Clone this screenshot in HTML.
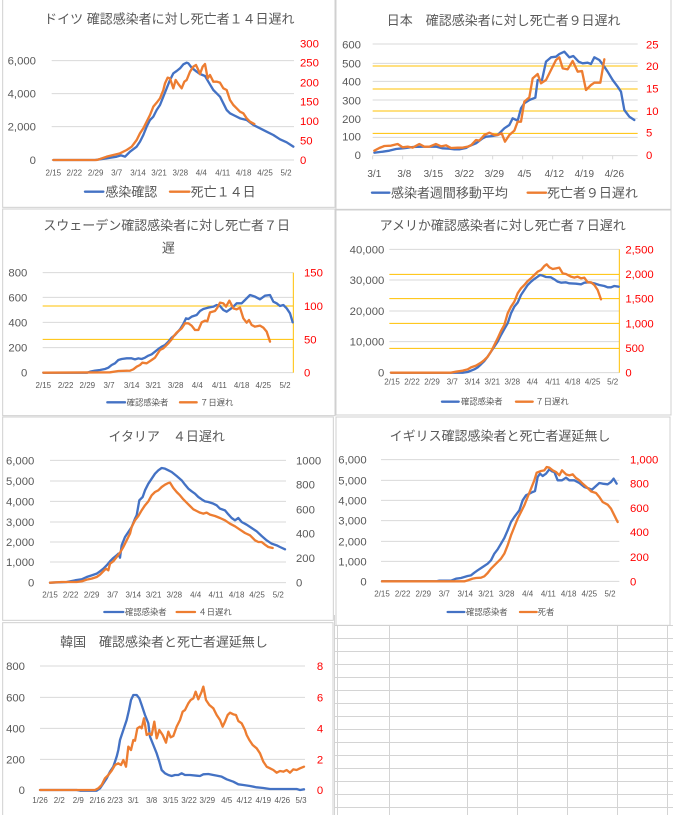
<!DOCTYPE html>
<html><head><meta charset="utf-8">
<style>
html,body{margin:0;padding:0;background:#fff;}
svg{display:block;}
.t{font-family:"Liberation Sans","Noto Sans CJK JP",sans-serif;fill:#595959;}
.ttl{font-size:39px;}
.ax{font-size:34px;}
.xl{font-size:24px;}
.xl2{font-size:30px;}
.lg{font-size:39px;}
.lgs{font-size:25px;}
.red{fill:#ff0000;}
.g{stroke:#d9d9d9;stroke-width:3;}
.y{stroke:#ffc000;stroke-width:3;}
.bd{fill:none;stroke:#d0d0d0;stroke-width:3;}
.b{fill:none;stroke:#4472c4;stroke-width:7;stroke-linejoin:round;stroke-linecap:round;}
.o{fill:none;stroke:#ed7d31;stroke-width:7;stroke-linejoin:round;stroke-linecap:round;}
</style></head>
<body>
<svg width="673" height="815" viewBox="0 0 673 815" xmlns="http://www.w3.org/2000/svg">
<rect width="673" height="815" fill="#fff"/>

<!-- spreadsheet grid bottom-right -->
<g stroke="#d4d4d4" stroke-width="1">
<line x1="334" y1="625.5" x2="673" y2="625.5"/>
<line x1="334" y1="638.5" x2="673" y2="638.5"/>
<line x1="334" y1="651.5" x2="673" y2="651.5"/>
<line x1="334" y1="664.5" x2="673" y2="664.5"/>
<line x1="334" y1="677.5" x2="673" y2="677.5"/>
<line x1="334" y1="690.5" x2="673" y2="690.5"/>
<line x1="334" y1="703.5" x2="673" y2="703.5"/>
<line x1="334" y1="716.5" x2="673" y2="716.5"/>
<line x1="334" y1="729.5" x2="673" y2="729.5"/>
<line x1="334" y1="742.5" x2="673" y2="742.5"/>
<line x1="334" y1="755.5" x2="673" y2="755.5"/>
<line x1="334" y1="768.5" x2="673" y2="768.5"/>
<line x1="334" y1="781.5" x2="673" y2="781.5"/>
<line x1="334" y1="794.5" x2="673" y2="794.5"/>
<line x1="334" y1="807.5" x2="673" y2="807.5"/>
<line x1="334.5" y1="615" x2="334.5" y2="815"/>
<line x1="337.5" y1="625" x2="337.5" y2="815"/>
<line x1="389.5" y1="625" x2="389.5" y2="815"/>
<line x1="467.5" y1="625" x2="467.5" y2="815"/>
<line x1="517.5" y1="625" x2="517.5" y2="815"/>
<line x1="567.5" y1="625" x2="567.5" y2="815"/>
<line x1="617.5" y1="625" x2="617.5" y2="815"/>
<line x1="667.5" y1="625" x2="667.5" y2="815"/>
</g>

<!-- ============ Chart 1: Germany ============ -->
<g transform="translate(0,0) scale(0.33333)">
<rect class="bd" x="8" y="-5" width="997" height="627"/>
<text class="t ttl" x="508" y="70" text-anchor="middle">ドイツ 確認感染者に対し死亡者１４日遅れ</text>
<line class="g" x1="155" y1="182" x2="882" y2="182"/>
<line class="g" x1="155" y1="281" x2="882" y2="281"/>
<line class="g" x1="155" y1="380" x2="882" y2="380"/>
<line class="g" x1="155" y1="480" x2="882" y2="480"/>
<g class="t ax" text-anchor="end">
<text x="108" y="194">6,000</text><text x="108" y="293">4,000</text><text x="108" y="392">2,000</text><text x="108" y="492">0</text>
</g>
<g class="t ax red">
<text x="900" y="142">300</text><text x="900" y="200">250</text><text x="900" y="259">200</text><text x="900" y="317">150</text><text x="900" y="375">100</text><text x="900" y="434">50</text><text x="900" y="492">0</text>
</g>
<g class="t xl" text-anchor="middle">
<text x="160" y="527">2/15</text><text x="223" y="527">2/22</text><text x="287" y="527">2/29</text><text x="350" y="527">3/7</text><text x="414" y="527">3/14</text><text x="477" y="527">3/21</text><text x="541" y="527">3/28</text><text x="604" y="527">4/4</text><text x="668" y="527">4/11</text><text x="731" y="527">4/18</text><text x="795" y="527">4/25</text><text x="858" y="527">5/2</text>
</g>
<polyline class="b" points="160,480 285,480 300,478 350,470 363,466 375,470 390,455 410,440 420,425 430,405 440,380 450,360 460,350 470,330 480,315 490,290 500,265 510,240 520,220 530,213 540,205 550,193 560,188 565,190 575,203 590,215 600,222 615,228 625,245 640,270 650,280 660,290 670,310 680,330 690,340 700,345 720,355 740,360 760,375 780,385 800,395 820,405 840,418 860,427 880,440"/>
<polyline class="o" points="160,480 290,480 300,477 320,470 340,465 360,460 380,450 395,440 410,420 420,400 430,385 440,365 450,345 460,320 470,308 480,295 490,270 495,250 503,233 510,235 520,265 527,240 535,252 545,265 553,245 560,240 570,215 580,200 588,195 595,210 600,222 608,200 615,192 623,235 630,225 640,245 650,245 660,248 670,265 680,270 690,300 700,315 710,325 720,335 730,340 740,355 750,365 763,372"/>
<line class="b" x1="255" y1="575" x2="310" y2="575"/>
<text class="t lg" x="316" y="590">感染確認</text>
<line class="o" x1="510" y1="575" x2="568" y2="575"/>
<text class="t lg" x="572" y="590">死亡１４日</text>
</g>

<!-- ============ Chart 2: Japan ============ -->
<g transform="translate(336,0) scale(0.33333)">
<rect class="bd" x="0" y="-5" width="1005" height="633"/>
<text class="t ttl" x="503" y="75" text-anchor="middle">日本　確認感染者に対し死亡者９日遅れ</text>
<line class="g" x1="110" y1="132" x2="905" y2="132"/>
<line class="g" x1="110" y1="190" x2="905" y2="190"/>
<line class="g" x1="110" y1="244" x2="905" y2="244"/>
<line class="g" x1="110" y1="300" x2="905" y2="300"/>
<line class="g" x1="110" y1="355" x2="905" y2="355"/>
<line class="g" x1="110" y1="412" x2="905" y2="412"/>
<line class="g" x1="110" y1="467" x2="905" y2="467"/>
<g class="g">
<line x1="110" y1="467" x2="110" y2="478"/><line x1="200" y1="467" x2="200" y2="478"/><line x1="290" y1="467" x2="290" y2="478"/><line x1="380" y1="467" x2="380" y2="478"/><line x1="470" y1="467" x2="470" y2="478"/><line x1="560" y1="467" x2="560" y2="478"/><line x1="650" y1="467" x2="650" y2="478"/><line x1="740" y1="467" x2="740" y2="478"/><line x1="830" y1="467" x2="830" y2="478"/>
</g>
<line class="y" x1="110" y1="198" x2="905" y2="198"/>
<line class="y" x1="110" y1="267" x2="905" y2="267"/>
<line class="y" x1="110" y1="333" x2="905" y2="333"/>
<line class="y" x1="110" y1="400" x2="905" y2="400"/>
<g class="t ax" text-anchor="end">
<text x="75" y="145">600</text><text x="75" y="202">500</text><text x="75" y="257">400</text><text x="75" y="314">300</text><text x="75" y="369">200</text><text x="75" y="422">100</text><text x="75" y="477">0</text>
</g>
<g class="t ax red">
<text x="930" y="145">25</text><text x="930" y="210">20</text><text x="930" y="278">15</text><text x="930" y="345">10</text><text x="930" y="410">5</text><text x="930" y="477">0</text>
</g>
<g class="t xl2" text-anchor="middle">
<text x="115" y="531">3/1</text><text x="205" y="531">3/8</text><text x="292" y="531">3/15</text><text x="385" y="531">3/22</text><text x="475" y="531">3/29</text><text x="565" y="531">4/5</text><text x="655" y="531">4/12</text><text x="745" y="531">4/19</text><text x="835" y="531">4/26</text>
</g>
<polyline class="b" points="115,458 140,455 160,452 180,447 200,445 210,444 230,441 260,440 280,440 300,440 320,445 340,446 355,448 370,448 390,444 400,438 420,430 440,415 450,410 470,408 485,405 495,395 505,385 520,375 530,355 545,362 555,325 565,310 580,300 598,293 605,240 618,240 630,185 645,172 660,170 670,162 685,155 700,172 712,168 728,185 740,190 755,188 765,192 775,172 790,180 805,200 815,215 830,240 845,260 855,275 865,330 880,350 895,360"/>
<polyline class="o" points="115,452 130,444 145,438 165,437 185,432 200,442 215,440 230,443 250,432 265,440 280,440 300,432 315,439 330,436 345,444 365,443 380,443 395,440 405,436 420,420 430,422 445,405 460,398 475,405 485,405 497,400 507,425 520,405 535,392 545,365 555,365 565,305 580,292 590,235 605,222 615,250 630,240 645,210 660,180 670,172 680,205 695,208 710,183 725,215 738,213 750,270 765,255 775,248 793,248 805,178"/>
<line class="b" x1="108" y1="578" x2="160" y2="578"/>
<text class="t lg" x="165" y="593">感染者週間移動平均</text>
<line class="o" x1="575" y1="578" x2="630" y2="578"/>
<text class="t lg" x="633" y="593">死亡者９日遅れ</text>
</g>

<!-- ============ Chart 3: Sweden ============ -->
<g transform="translate(0,205) scale(0.33333)">
<rect class="bd" x="8" y="12" width="997" height="620"/>
<text class="t ttl" x="500" y="75" text-anchor="middle">スウェーデン確認感染者に対し死亡者７日</text>
<text class="t ttl" x="505" y="143" text-anchor="middle">遅</text>
<line class="g" x1="128" y1="203" x2="880" y2="203"/>
<line class="g" x1="128" y1="277" x2="880" y2="277"/>
<line class="g" x1="128" y1="352" x2="880" y2="352"/>
<line class="g" x1="128" y1="428" x2="880" y2="428"/>
<line class="g" x1="128" y1="503" x2="880" y2="503"/>
<line class="y" x1="128" y1="303" x2="880" y2="303"/>
<line class="y" x1="128" y1="403" x2="880" y2="403"/>
<line class="y" x1="880" y1="203" x2="880" y2="503"/>
<g class="t ax" text-anchor="end">
<text x="82" y="215">800</text><text x="82" y="289">600</text><text x="82" y="364">400</text><text x="82" y="440">200</text><text x="82" y="515">0</text>
</g>
<g class="t ax red">
<text x="912" y="215">150</text><text x="912" y="315">100</text><text x="912" y="415">50</text><text x="912" y="515">0</text>
</g>
<g class="t xl" text-anchor="middle">
<text x="130" y="549">2/15</text><text x="197" y="549">2/22</text><text x="262" y="549">2/29</text><text x="327" y="549">3/7</text><text x="395" y="549">3/14</text><text x="460" y="549">3/21</text><text x="527" y="549">3/28</text><text x="592" y="549">4/4</text><text x="658" y="549">4/11</text><text x="725" y="549">4/18</text><text x="790" y="549">4/25</text><text x="855" y="549">5/2</text>
</g>
<polyline class="b" points="130,503 262,503 270,500 285,497 300,495 315,492 325,488 335,480 345,475 355,465 365,462 380,460 395,460 405,463 415,460 425,462 435,458 445,452 455,448 465,440 475,432 485,425 495,420 505,410 515,398 525,390 540,373 550,357 558,340 565,342 575,335 590,330 600,318 610,312 625,308 640,305 650,300 660,303 670,315 680,320 690,313 700,305 710,295 725,295 735,285 750,270 765,275 780,283 795,272 810,270 820,290 830,295 840,303 850,300 860,310 870,325 878,352"/>
<polyline class="o" points="130,503 330,502 355,498 390,497 400,493 410,485 420,480 427,473 440,475 455,465 465,458 480,435 490,430 505,415 515,403 520,395 530,383 545,370 555,355 565,355 575,362 585,375 595,375 605,352 615,347 622,349 630,322 645,318 652,308 660,293 670,295 678,305 688,287 700,310 710,313 720,308 730,340 740,353 747,345 755,360 765,365 780,362 790,368 800,380 810,410"/>
<line class="b" x1="322" y1="592" x2="375" y2="592"/>
<text class="t lgs" x="380" y="601">確認感染者</text>
<line class="o" x1="540" y1="592" x2="590" y2="592"/>
<text class="t lgs" x="600" y="601">７日遅れ</text>
</g>

<!-- ============ Chart 4: USA ============ -->
<g transform="translate(336,205) scale(0.33333)">
<rect class="bd" x="0" y="15" width="1005" height="615"/>
<text class="t ttl" x="500" y="75" text-anchor="middle">アメリか確認感染者に対し死亡者７日遅れ</text>
<line class="g" x1="160" y1="133" x2="850" y2="133"/>
<line class="g" x1="160" y1="225" x2="850" y2="225"/>
<line class="g" x1="160" y1="318" x2="850" y2="318"/>
<line class="g" x1="160" y1="410" x2="850" y2="410"/>
<line class="g" x1="160" y1="503" x2="850" y2="503"/>
<line class="y" x1="160" y1="208" x2="850" y2="208"/>
<line class="y" x1="160" y1="281" x2="850" y2="281"/>
<line class="y" x1="160" y1="355" x2="850" y2="355"/>
<line class="y" x1="160" y1="430" x2="850" y2="430"/>
<line class="y" x1="850" y1="133" x2="850" y2="503"/>
<g class="t ax" text-anchor="end">
<text x="145" y="145">40,000</text><text x="145" y="237">30,000</text><text x="145" y="330">20,000</text><text x="145" y="422">10,000</text><text x="145" y="515">0</text>
</g>
<g class="t ax red">
<text x="868" y="145">2,500</text><text x="868" y="219">2,000</text><text x="868" y="293">1,500</text><text x="868" y="367">1,000</text><text x="868" y="441">500</text><text x="868" y="515">0</text>
</g>
<g class="t xl" text-anchor="middle">
<text x="168" y="539">2/15</text><text x="228" y="539">2/22</text><text x="288" y="539">2/29</text><text x="349" y="539">3/7</text><text x="409" y="539">3/14</text><text x="469" y="539">3/21</text><text x="529" y="539">3/28</text><text x="589" y="539">4/4</text><text x="650" y="539">4/11</text><text x="710" y="539">4/18</text><text x="770" y="539">4/25</text><text x="830" y="539">5/2</text>
</g>
<polyline class="b" points="165,503 380,503 395,501 405,497 415,493 425,487 435,478 445,468 455,455 465,440 475,425 485,410 495,390 505,372 515,355 525,325 535,305 545,293 555,270 565,255 575,240 585,230 595,222 605,215 612,210 620,212 630,216 645,217 655,223 665,230 675,233 690,232 700,235 720,236 735,238 745,233 760,232 775,235 790,240 805,243 815,247 825,247 835,243 848,245"/>
<polyline class="o" points="165,503 345,503 360,500 380,497 395,493 405,487 420,482 435,473 445,465 455,455 465,440 475,420 485,400 495,378 505,360 515,325 525,305 535,290 545,265 555,250 565,240 575,228 585,220 595,210 605,200 615,195 625,183 632,178 640,187 650,192 660,190 670,188 680,205 690,207 705,215 715,218 725,215 735,220 745,218 755,232 765,232 775,240 785,255 795,283"/>
<line class="b" x1="318" y1="590" x2="368" y2="590"/>
<text class="t lgs" x="375" y="599">確認感染者</text>
<line class="o" x1="540" y1="590" x2="590" y2="590"/>
<text class="t lgs" x="598" y="599">７日遅れ</text>
</g>

<!-- ============ Chart 5: Italy ============ -->
<g transform="translate(0,412) scale(0.33333)">
<rect class="bd" x="8" y="15" width="992" height="610"/>
<text class="t ttl" x="500" y="87" text-anchor="middle">イタリア　４日遅れ</text>
<line class="g" x1="150" y1="145" x2="858" y2="145"/>
<line class="g" x1="150" y1="207" x2="858" y2="207"/>
<line class="g" x1="150" y1="268" x2="858" y2="268"/>
<line class="g" x1="150" y1="330" x2="858" y2="330"/>
<line class="g" x1="150" y1="390" x2="858" y2="390"/>
<line class="g" x1="150" y1="450" x2="858" y2="450"/>
<line class="g" x1="150" y1="512" x2="858" y2="512"/>
<g class="t ax" text-anchor="end">
<text x="103" y="157">6,000</text><text x="103" y="219">5,000</text><text x="103" y="280">4,000</text><text x="103" y="342">3,000</text><text x="103" y="402">2,000</text><text x="103" y="462">1,000</text><text x="103" y="524">0</text>
</g>
<g class="t ax">
<text x="888" y="157">1000</text><text x="888" y="230">800</text><text x="888" y="304">600</text><text x="888" y="377">400</text><text x="888" y="450">200</text><text x="888" y="524">0</text>
</g>
<g class="t xl" text-anchor="middle">
<text x="150" y="557">2/15</text><text x="212" y="557">2/22</text><text x="275" y="557">2/29</text><text x="338" y="557">3/7</text><text x="400" y="557">3/14</text><text x="461" y="557">3/21</text><text x="523" y="557">3/28</text><text x="587" y="557">4/4</text><text x="648" y="557">4/11</text><text x="710" y="557">4/18</text><text x="771" y="557">4/25</text><text x="835" y="557">5/2</text>
</g>
<polyline class="b" points="150,512 200,510 225,505 245,502 260,495 275,490 290,485 300,478 310,470 320,460 330,448 340,438 350,430 355,425 360,437 365,400 375,375 385,360 395,345 405,320 410,310 418,265 428,255 435,235 445,215 455,200 465,185 475,175 485,168 495,170 505,175 515,180 530,192 545,205 555,218 565,230 575,238 585,245 595,255 605,262 615,268 625,270 640,275 650,280 660,290 675,295 685,307 695,318 705,325 715,318 725,330 740,338 755,348 770,358 785,372 800,385 815,395 830,400 840,405 855,412"/>
<polyline class="o" points="150,512 185,510 230,510 245,508 260,503 275,500 290,495 300,488 310,478 318,470 325,475 330,455 340,448 350,435 360,422 370,405 380,385 390,365 395,345 405,325 415,312 425,295 435,280 445,268 455,250 465,240 475,235 485,225 495,218 505,213 510,212 520,228 530,240 540,250 550,262 560,272 570,282 580,292 590,297 600,302 610,305 620,302 630,308 645,312 660,318 675,325 690,335 705,343 720,353 735,363 750,370 765,385 775,390 785,390 795,398 805,405 818,408"/>
<line class="b" x1="313" y1="600" x2="370" y2="600"/>
<text class="t lgs" x="375" y="609">確認感染者</text>
<line class="o" x1="530" y1="600" x2="585" y2="600"/>
<text class="t lgs" x="595" y="609">４日遅れ</text>
</g>

<!-- ============ Chart 6: UK ============ -->
<g transform="translate(336,412) scale(0.33333)">
<rect class="bd" x="0" y="15" width="1002" height="625"/>
<text class="t ttl" x="492" y="85" text-anchor="middle">イギリス確認感染者と死亡者遅延無し</text>
<line class="g" x1="135" y1="143" x2="850" y2="143"/>
<line class="g" x1="135" y1="205" x2="850" y2="205"/>
<line class="g" x1="135" y1="265" x2="850" y2="265"/>
<line class="g" x1="135" y1="326" x2="850" y2="326"/>
<line class="g" x1="135" y1="388" x2="850" y2="388"/>
<line class="g" x1="135" y1="448" x2="850" y2="448"/>
<line class="g" x1="135" y1="508" x2="850" y2="508"/>
<g class="t ax" text-anchor="end">
<text x="92" y="155">6,000</text><text x="92" y="217">5,000</text><text x="92" y="277">4,000</text><text x="92" y="338">3,000</text><text x="92" y="400">2,000</text><text x="92" y="460">1,000</text><text x="92" y="520">0</text>
</g>
<g class="t ax red">
<text x="882" y="155">1,000</text><text x="882" y="227">800</text><text x="882" y="300">600</text><text x="882" y="372">400</text><text x="882" y="447">200</text><text x="882" y="520">0</text>
</g>
<g class="t xl" text-anchor="middle">
<text x="138" y="554">2/15</text><text x="200" y="554">2/22</text><text x="262" y="554">2/29</text><text x="325" y="554">3/7</text><text x="388" y="554">3/14</text><text x="450" y="554">3/21</text><text x="512" y="554">3/28</text><text x="575" y="554">4/4</text><text x="637" y="554">4/11</text><text x="698" y="554">4/18</text><text x="760" y="554">4/25</text><text x="822" y="554">5/2</text>
</g>
<polyline class="b" points="138,508 300,508 310,506 345,506 360,500 375,498 385,495 395,492 405,490 415,482 425,475 440,465 455,455 465,445 475,425 485,412 495,395 505,378 515,355 525,330 535,315 550,295 560,265 570,250 580,245 590,240 597,237 605,195 612,185 620,192 630,185 640,172 648,178 655,180 665,205 678,205 690,197 700,205 715,205 730,213 745,225 760,230 768,233 780,222 790,213 800,215 815,217 825,210 833,200 842,215"/>
<polyline class="o" points="138,508 385,508 395,505 410,500 420,498 435,497 445,493 455,483 465,470 480,455 495,440 505,425 515,400 525,370 535,345 545,320 555,300 565,280 575,255 585,230 595,205 602,182 615,177 625,175 632,165 640,167 650,175 660,180 670,190 678,175 690,187 700,190 710,187 720,198 730,205 740,215 755,228 765,238 780,243 790,255 800,270 815,278 825,290 835,310 845,330"/>
<line class="b" x1="335" y1="600" x2="385" y2="600"/>
<text class="t lgs" x="390" y="609">確認感染者</text>
<line class="o" x1="552" y1="600" x2="602" y2="600"/>
<text class="t lgs" x="605" y="609">死者</text>
</g>

<!-- ============ Chart 7: Korea ============ -->
<g transform="translate(0,620) scale(0.33333)">
<rect class="bd" x="8" y="8" width="991" height="620"/>
<text class="t ttl" x="492" y="80" text-anchor="middle">韓国　確認感染者と死亡者遅延無し</text>
<line class="g" x1="120" y1="138" x2="915" y2="138"/>
<line class="g" x1="120" y1="232" x2="915" y2="232"/>
<line class="g" x1="120" y1="325" x2="915" y2="325"/>
<line class="g" x1="120" y1="418" x2="915" y2="418"/>
<line class="g" x1="120" y1="510" x2="915" y2="510"/>
<g class="t ax" text-anchor="end">
<text x="75" y="150">800</text><text x="75" y="244">600</text><text x="75" y="337">400</text><text x="75" y="430">200</text><text x="75" y="522">0</text>
</g>
<g class="t ax red" text-anchor="middle">
<text x="960" y="150">8</text><text x="960" y="244">6</text><text x="960" y="337">4</text><text x="960" y="430">2</text><text x="960" y="522">0</text>
</g>
<g class="t xl" text-anchor="middle">
<text x="120" y="549">1/26</text><text x="178" y="549">2/2</text><text x="235" y="549">2/9</text><text x="292" y="549">2/16</text><text x="345" y="549">2/23</text><text x="400" y="549">3/1</text><text x="455" y="549">3/8</text><text x="512" y="549">3/15</text><text x="567" y="549">3/22</text><text x="622" y="549">3/29</text><text x="680" y="549">4/5</text><text x="733" y="549">4/12</text><text x="790" y="549">4/19</text><text x="847" y="549">4/26</text><text x="903" y="549">5/3</text>
</g>
<polyline class="b" points="120,510 230,510 240,512 290,512 300,505 310,490 320,475 330,455 340,440 350,410 355,390 360,360 370,330 380,300 387,270 393,240 400,225 410,225 418,235 425,255 435,285 445,310 450,350 460,375 470,400 478,425 485,450 495,460 505,465 515,468 525,465 535,465 545,460 555,465 570,465 590,467 600,468 610,463 625,462 640,465 650,467 665,470 680,478 700,485 715,493 730,495 750,498 770,502 790,504 810,507 840,507 870,507 890,507 900,510 912,508"/>
<polyline class="o" points="120,510 285,510 295,505 305,495 315,475 325,465 335,452 345,435 355,430 363,435 370,420 378,440 385,380 393,390 400,360 405,362 412,325 420,320 425,325 432,295 440,345 448,340 455,345 463,305 470,355 478,330 488,345 498,368 505,335 512,352 520,348 530,320 540,300 548,275 555,270 565,250 572,240 580,235 587,215 595,238 605,215 610,200 618,240 628,255 640,265 650,285 660,300 668,320 675,305 683,285 690,278 700,283 708,285 715,303 725,310 735,330 740,345 748,360 758,375 770,385 780,400 790,425 800,440 810,445 820,450 830,458 840,453 850,455 860,450 870,458 880,448 890,450 900,445 912,440"/>
<line class="b" x1="335" y1="598" x2="385" y2="598"/>
<text class="t lgs" x="392" y="607">確認感染者</text>
<line class="o" x1="555" y1="598" x2="605" y2="598"/>
<text class="t lgs" x="610" y="607">死者</text>
</g>
</svg>
</body></html>
